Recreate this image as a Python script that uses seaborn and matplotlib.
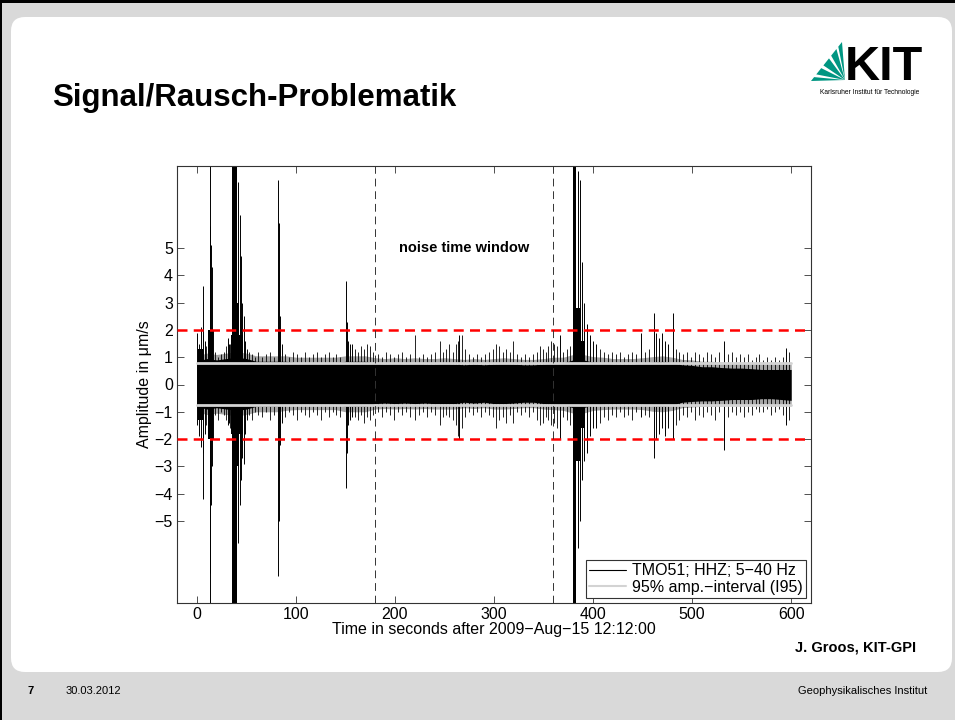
import numpy as np
import pandas as pd
import matplotlib
matplotlib.use("Agg")
import matplotlib.pyplot as plt
from matplotlib.patches import FancyBboxPatch, Rectangle, Polygon
from matplotlib.lines import Line2D
import seaborn as sns

sns.set_style("ticks")
plt.rcParams['font.family'] = ['Liberation Sans', 'DejaVu Sans']
plt.rcParams['text.color'] = 'black'
plt.rcParams['axes.labelcolor'] = 'black'
plt.rcParams['xtick.labelcolor'] = 'black'
plt.rcParams['ytick.labelcolor'] = 'black'

# dense noise band of the trace, read every 10 s (upper / lower edge, um/s)
band_t = list(range(0, 610, 10))
band_hi = [0.85, 0.95, 0.9, 0.95, 1.0, 0.95, 0.85, 0.85, 0.85, 0.85,
           0.8, 0.8, 0.8, 0.8, 0.8, 0.85, 0.85, 0.85, 0.78, 0.75,
           0.78, 0.75, 0.78, 0.75, 0.75, 0.78, 0.75, 0.72, 0.75, 0.72,
           0.75, 0.78, 0.75, 0.72, 0.72, 0.75, 0.8, 0.8, 0.9, 0.9,
           0.82, 0.8, 0.75, 0.75, 0.75, 0.78, 0.82, 0.85, 0.8, 0.72,
           0.7, 0.65, 0.65, 0.62, 0.6, 0.6, 0.58, 0.55, 0.55, 0.55, 0.55]
band_lo = [-0.8, -0.9, -0.85, -0.9, -0.95, -0.9, -0.8, -0.8, -0.8, -0.75,
           -0.72, -0.72, -0.72, -0.72, -0.72, -0.8, -0.8, -0.8, -0.7, -0.68,
           -0.7, -0.68, -0.7, -0.68, -0.7, -0.7, -0.7, -0.65, -0.68, -0.65,
           -0.7, -0.7, -0.68, -0.65, -0.65, -0.7, -0.72, -0.75, -0.85, -0.85,
           -0.75, -0.72, -0.7, -0.7, -0.7, -0.72, -0.78, -0.8, -0.75, -0.65,
           -0.62, -0.6, -0.6, -0.58, -0.55, -0.55, -0.55, -0.52, -0.52, -0.55, -0.58]

# strong events (solid black parts of the trace)
ev_start = [1.0, 11.5, 34.5, 36.0, 40.3, 43.0, 379.4, 382.8, 387.5]
ev_end = [7.0, 16.5, 36.0, 40.3, 43.0, 46.5, 382.8, 387.5, 392.0]
ev_amp = [1.3, 2.0, 1.8, 8.5, 3.0, 1.8, 8.5, 2.8, 1.6]

# larger single spikes
spk_t = [0.5, 2, 4, 5.9, 6.5, 8, 13.2, 13.8, 14.5, 15.3, 16.5, 31, 32.5,
         42, 43.5, 44.5, 46, 47.5, 49, 51, 82, 82.8, 84, 86,
         150.3, 151.5, 153, 155, 157, 265, 367,
         384.5, 387, 389, 391, 394, 397, 400, 403, 448,
         461.6, 464, 467, 470, 473, 476, 480.4, 532, 595]
spk_hi = [1.9, 1.5, 2.1, 3.6, 1.8, 1.6, 8.5, 5.8, 5.1, 4.3, 2.0, 1.7, 1.5,
          7.4, 6.2, 4.7, 3.0, 2.5, 1.6, 1.3, 7.5, 5.9, 2.5, 1.5,
          3.8, 2.3, 1.6, 1.5, 1.5, 1.8, 1.8,
          7.8, 7.5, 4.5, 3.0, 2.2, 1.8, 1.6, 1.5, 1.9,
          2.6, 1.9, 1.7, 1.9, 1.6, 1.5, 2.6, 1.6, 1.35]
spk_lo = [-1.5, -1.9, -2.3, -2.5, -4.2, -1.8, -8.5, -6.9, -4.4, -3.0, -2.0, -1.5, -1.4,
          -5.8, -4.4, -3.5, -2.7, -2.9, -1.8, -1.3, -7.0, -5.0, -2.2, -1.4,
          -3.8, -2.5, -1.5, -1.3, -1.2, -2.0, -2.0,
          -6.0, -5.0, -3.5, -2.8, -2.5, -1.9, -1.6, -1.6, -1.2,
          -2.7, -2.0, -1.8, -1.6, -1.9, -1.6, -2.0, -2.4, -1.5]

# small spikes sticking out of the noise band
hair_t = [9.5, 11, 18, 21, 24, 27, 29.5, 34,
          53, 56, 59, 62, 66, 70, 74, 78,
          89, 93, 97, 101, 105, 109, 113, 117, 121, 125, 129, 133, 137, 141, 145,
          160, 163, 166, 169, 172, 175, 178,
          183, 187, 191, 195, 199, 203, 207, 211, 215,
          220.5, 224, 228, 232, 236, 240,
          245, 249, 252, 255, 259, 262, 264, 268,
          271, 275, 279, 283, 287, 291, 295, 299,
          302, 305, 309, 312, 316, 319,
          323, 327, 331, 335, 339, 343,
          346, 349, 352, 355, 358, 361, 364,
          370, 374, 377,
          407, 411, 415, 419, 423, 427, 431, 435, 439, 443, 452, 456,
          484, 487, 491, 495, 499, 503, 507, 511, 515, 519, 523, 527,
          536, 540, 544, 548, 552, 556, 560, 564, 568, 572, 576, 580, 584, 588, 592, 598]
hair_hi = [1.4, 1.6, 1.2, 1.0, 1.1, 1.2, 1.4, 1.5,
           1.2, 1.1, 1.0, 1.2, 1.0, 1.1, 1.2, 1.0,
           1.1, 1.0, 1.2, 1.1, 1.0, 1.2, 1.0, 1.1, 1.2, 1.0, 1.1, 1.2, 1.0, 1.1, 1.0,
           1.3, 1.2, 1.4, 1.3, 1.5, 1.4, 1.2,
           1.1, 1.0, 1.2, 1.1, 1.0, 1.1, 1.2, 1.0, 1.1,
           1.8, 1.0, 1.1, 1.0, 1.1, 1.2,
           1.6, 1.2, 1.3, 1.5, 1.2, 1.5, 1.6, 1.8,
           1.3, 1.1, 1.0, 1.1, 1.0, 1.1, 1.2, 1.3,
           1.5, 1.4, 1.2, 1.3, 1.2, 1.6,
           1.1, 1.0, 1.1, 1.0, 1.1, 1.2,
           1.4, 1.3, 1.2, 1.4, 1.6, 1.5, 1.4,
           1.2, 1.3, 1.4,
           1.3, 1.2, 1.1, 1.2, 1.1, 1.2, 1.0, 1.1, 1.2, 1.1, 1.2, 1.3,
           1.3, 1.2, 1.1, 1.2, 1.0, 1.2, 1.1, 1.0, 1.2, 1.1, 1.0, 1.2,
           1.1, 1.2, 1.0, 1.1, 1.0, 1.1, 0.9, 1.0, 1.1, 0.9, 1.0, 0.9, 1.0, 0.9, 1.0, 1.2]
hair_lo = [-1.5, -1.5, -1.1, -1.3, -1.0, -1.1, -1.3, -1.6,
           -1.1, -1.3, -1.0, -1.1, -1.2, -1.0, -1.3, -1.1,
           -1.2, -1.0, -1.1, -1.3, -1.0, -1.1, -1.2, -1.0, -1.1, -1.3, -1.0, -1.2, -1.0, -1.1, -1.2,
           -1.2, -1.3, -1.1, -1.4, -1.2, -1.3, -1.1,
           -1.0, -1.2, -1.0, -1.1, -1.3, -1.0, -1.1, -1.0, -1.2,
           -1.3, -1.1, -1.0, -1.2, -1.0, -1.1,
           -1.5, -1.2, -1.1, -1.2, -1.3, -1.5, -1.9, -1.6,
           -1.2, -1.0, -1.1, -1.0, -1.2, -1.0, -1.1, -1.2,
           -1.6, -1.3, -1.2, -1.4, -1.1, -1.4,
           -1.0, -1.1, -1.0, -1.2, -1.0, -1.3,
           -1.5, -1.4, -1.2, -1.3, -1.5, -1.4, -1.6,
           -1.2, -1.3, -1.5,
           -1.4, -1.2, -1.3, -1.1, -1.2, -1.0, -1.2, -1.1, -1.3, -1.0, -1.1, -1.2,
           -1.5, -1.3, -1.1, -1.2, -1.0, -1.3, -1.1, -1.2, -1.0, -1.1, -1.3, -1.0,
           -1.2, -1.0, -1.1, -1.0, -1.2, -1.0, -1.1, -0.9, -1.0, -1.0, -0.9, -1.1, -1.0, -0.9, -1.1, -1.3]

i95_hi, i95_lo = 0.79, -0.76     # 95% amplitude interval
thresh = 2.0                    # red threshold lines
win_start, win_end = 180, 360   # noise time window
trace_span = [0, 600]
x_ticks = [0, 100, 200, 300, 400, 500, 600]
y_ticks = [-5, -4, -3, -2, -1, 0, 1, 2, 3, 4, 5]

W, H = 955, 720
fig = plt.figure(figsize=(W / 100, H / 100), dpi=100)
fig.patch.set_facecolor('#d9d9d9')

# slide background in pixel coordinates
bg = fig.add_axes([0, 0, 1, 1])
bg.set_xlim(0, W)
bg.set_ylim(H, 0)
bg.axis('off')
bg.add_patch(FancyBboxPatch((11, 17), 941, 655, boxstyle="round,pad=0,rounding_size=14",
                            fc='white', ec='none'))
bg.add_patch(Rectangle((0, 0), W, 3, fc='black', ec='none'))
bg.add_patch(Rectangle((0, 0), 2, H, fc='black', ec='none'))

bg.text(52, 98, "Signal/Rausch-Problematik", fontsize=22.5, fontweight='bold',
        ha='left', va='center')

# KIT logo
ox, oy = 845, 80
A = np.array([811, 81.0])
B = np.array([842, 42.0])
for s0, s1 in [(0, 0.1), (0.17, 0.33), (0.4, 0.58), (0.65, 0.82), (0.88, 1.0)]:
    p0 = A + (B - A) * s0
    p1 = A + (B - A) * s1
    bg.add_patch(Polygon([(ox, oy), tuple(p0), tuple(p1)], closed=True, fc='#009682', ec='none'))
bg.text(845, 80, "KIT", fontsize=35, fontweight='bold', ha='left', va='baseline')
bg.text(870, 93, "Karlsruher Institut für Technologie", fontsize=4.8, ha='center', va='center')

# footer
bg.text(916, 648, "J. Groos, KIT-GPI", fontsize=10.5, fontweight='bold', ha='right', va='center')
bg.text(27, 691, "7", fontsize=8, fontweight='bold', ha='left', va='center')
bg.text(66, 691, "30.03.2012", fontsize=8, ha='left', va='center')
bg.text(927, 691, "Geophysikalisches Institut", fontsize=8, ha='right', va='center')

# seismogram axes
ax = fig.add_axes([177 / W, (H - 603) / H, (811 - 177) / W, (603 - 166) / H])
ax.set_facecolor('white')

# gray fuzzy edge of the noise band, then the dense core
ax.fill_between(band_t, np.array(band_lo) - 0.2, np.array(band_hi) + 0.2,
                color='black', alpha=0.35, lw=0, zorder=2)
ax.fill_between(band_t, band_lo, band_hi, color='black', lw=0, zorder=2)
for s, e, a in zip(ev_start, ev_end, ev_amp):
    ax.fill_between([s, e], [-a, -a], [a, a], color='black', lw=0, zorder=2)
ax.vlines(hair_t, hair_lo, hair_hi, color='black', lw=0.6, zorder=2)
ax.vlines(spk_t, spk_lo, spk_hi, color='black', lw=0.7, zorder=2)

i95 = pd.DataFrame({'t': trace_span * 2,
                    'a': [i95_hi, i95_hi, i95_lo, i95_lo],
                    'side': ['hi', 'hi', 'lo', 'lo']})
sns.lineplot(data=i95, x='t', y='a', units='side', estimator=None,
             color='#d3d3d3', lw=2, ax=ax, zorder=3)

ax.axhline(thresh, color='red', lw=1.8, dashes=(4, 2.5), zorder=4)
ax.axhline(-thresh, color='red', lw=1.8, dashes=(4, 2.5), zorder=4)
ax.axvline(win_start, color='#333333', lw=0.7, dashes=(8, 5), zorder=4)
ax.axvline(win_end, color='#333333', lw=0.7, dashes=(8, 5), zorder=4)

ax.text((win_start + win_end) / 2, 5, "noise time window", fontsize=10.5,
        fontweight='bold', ha='center', va='center')

ax.set_xlim(-20, 620)
ax.set_ylim(-8, 8)
ax.set_xticks(x_ticks)
ax.set_yticks(y_ticks)
ax.tick_params(direction='in', top=True, right=True, length=5, width=0.6,
               color='#333333', labelcolor='black', labelsize=11.5, pad=3)
for sp in ax.spines.values():
    sp.set_color('#333333')
    sp.set_linewidth(0.8)
ax.set_xlabel("Time in seconds after 2009\u2212Aug\u221215 12:12:00", fontsize=11.5, labelpad=0)
ax.set_ylabel("Amplitude in \u03bcm/s", fontsize=11.5, labelpad=2)

handles = [Line2D([0], [0], color='black', lw=0.8),
           Line2D([0], [0], color='#d3d3d3', lw=1.5)]
leg = ax.legend(handles, ["TMO51; HHZ; 5\u221240 Hz", "95% amp.\u2212interval (I95)"],
                loc='lower right', bbox_to_anchor=(1.0, 0.0), fontsize=11.5,
                frameon=True, fancybox=False, framealpha=1, edgecolor='#333333',
                borderpad=0.2, labelspacing=0.1, handlelength=2.3, handletextpad=0.4,
                borderaxespad=0.3)
leg.get_frame().set_linewidth(0.8)

fig.savefig('out.png', dpi=100)
